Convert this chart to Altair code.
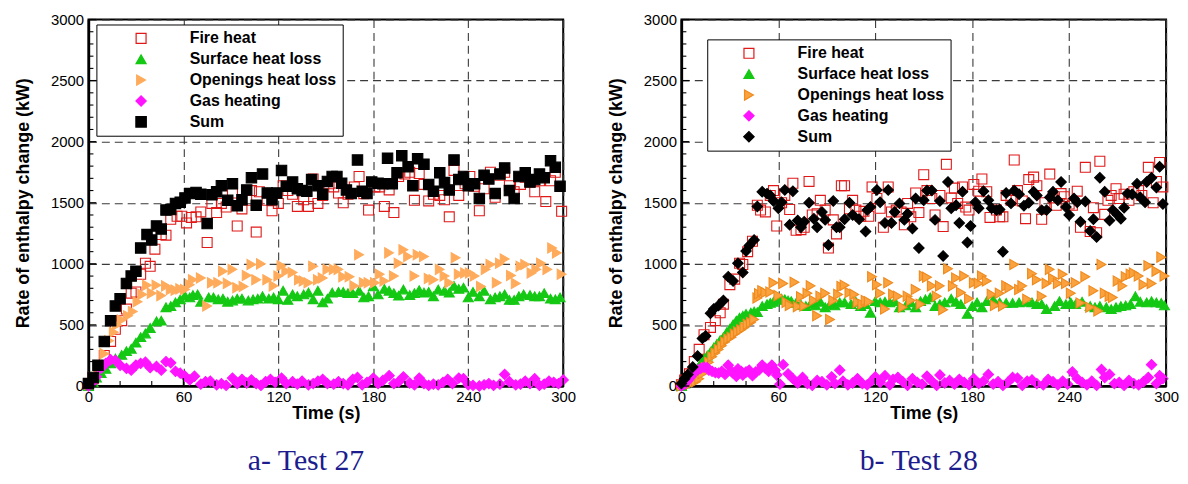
import altair as alt
import pandas as pd

SERIES = ["Fire heat", "Surface heat loss", "Openings heat loss", "Gas heating", "Sum"]

# ---------------- Test 27 : [time (s), rate (kW)] ----------------
FIRE_27 = [[0,15],[3,60],[7,155],[10,250],[14,365],[17,465],[21,535],[24,630],[27,760],[30,770],[33,915],[36,1005],[39,980],[42,1120],[46,1240],[49,1235],[52,1365],[56,1390],[59,1390],[62,1335],[65,1380],[68,1385],[71,1425],[75,1175],[78,1495],[81,1420],[84,1495],[87,1465],[91,1580],[94,1310],[97,1450],[100,1520],[103,1600],[106,1260],[108,1590],[113,1520],[116,1435],[120,1495],[123,1640],[126,1600],[129,1570],[132,1470],[136,1525],[139,1470],[142,1695],[145,1495],[148,1560],[152,1655],[155,1630],[158,1580],[161,1500],[164,1570],[168,1630],[171,1715],[174,1575],[177,1440],[181,1630],[184,1630],[187,1470],[190,1605],[193,1420],[196,1715],[200,1735],[203,1750],[206,1520],[209,1740],[212,1650],[215,1515],[218,1570],[222,1560],[225,1525],[228,1385],[231,1765],[234,1560],[238,1655],[241,1715],[244,1635],[247,1435],[250,1615],[254,1750],[257,1545],[260,1725],[263,1750],[266,1640],[269,1590],[273,1650],[276,1710],[279,1670],[282,1590],[285,1680],[289,1510],[292,1680],[295,1750],[299,1430]]
SURF_27 = [[0,0],[3,30],[5,70],[8,105],[11,140],[14,185],[17,225],[21,255],[24,285],[27,305],[30,355],[33,400],[36,430],[39,475],[43,530],[46,535],[49,645],[52,655],[55,685],[58,710],[61,740],[64,725],[66,745],[69,750],[71,690],[76,725],[79,725],[82,710],[85,715],[88,690],[91,700],[94,715],[97,715],[101,700],[104,710],[107,715],[110,735],[114,715],[117,725],[120,710],[123,780],[126,705],[129,750],[132,735],[136,750],[139,765],[142,710],[145,780],[148,685],[151,715],[154,765],[158,770],[161,770],[164,760],[167,760],[171,780],[174,725],[177,735],[180,815],[183,750],[187,795],[190,780],[193,760],[196,740],[199,790],[203,745],[206,760],[209,785],[212,765],[215,770],[218,735],[221,790],[225,780],[228,765],[231,820],[234,795],[237,805],[240,725],[243,770],[247,735],[250,780],[254,710],[257,725],[260,735],[263,750],[266,705],[269,705],[272,735],[275,750],[279,745],[282,735],[285,735],[288,760],[292,715],[295,710],[298,725]]
OPEN_27 = [[0,10],[3,70],[6,160],[10,265],[13,370],[16,440],[18,500],[21,540],[25,575],[28,610],[31,690],[34,750],[37,825],[40,760],[43,825],[46,740],[49,820],[52,790],[55,785],[58,795],[61,790],[64,830],[66,870],[71,885],[75,655],[78,845],[82,845],[85,940],[88,840],[91,955],[94,805],[98,815],[100,905],[103,995],[106,870],[109,1000],[113,870],[117,820],[120,900],[122,985],[125,940],[129,930],[133,870],[136,860],[139,845],[142,980],[145,870],[148,885],[151,955],[155,955],[158,955],[161,895],[165,895],[168,820],[171,1075],[174,845],[177,845],[181,845],[184,915],[187,860],[190,1090],[193,900],[196,1005],[199,1115],[202,1060],[206,900],[208,1075],[212,1060],[215,880],[218,870],[222,955],[225,900],[228,845],[232,1050],[234,915],[238,925],[241,925],[244,900],[248,815],[251,955],[254,995],[258,845],[260,1005],[263,1040],[267,905],[270,840],[273,980],[276,995],[280,925],[283,955],[286,1005],[290,955],[293,1130],[296,1090],[299,915]]
GAS_27 = [[0,0],[2,20],[5,75],[8,145],[11,185],[14,215],[17,210],[20,170],[24,145],[27,130],[30,170],[33,185],[36,195],[39,150],[43,160],[46,130],[49,200],[52,190],[55,120],[58,105],[61,80],[64,50],[67,80],[71,15],[74,35],[77,40],[81,10],[84,20],[87,5],[91,65],[94,20],[97,55],[100,25],[103,50],[106,20],[109,5],[112,35],[115,55],[118,30],[122,65],[125,20],[129,35],[132,15],[135,40],[139,10],[142,20],[145,40],[148,55],[151,20],[155,15],[158,35],[161,20],[164,10],[167,55],[170,70],[173,10],[176,30],[180,65],[183,20],[186,45],[190,85],[193,20],[196,35],[199,75],[203,25],[206,10],[209,65],[212,20],[215,5],[218,15],[221,10],[224,30],[227,55],[230,20],[234,65],[237,60],[240,10],[243,5],[247,0],[250,10],[253,20],[256,5],[260,15],[263,95],[266,35],[270,10],[273,15],[276,40],[279,20],[282,60],[285,5],[288,15],[291,40],[294,30],[297,20],[300,50]]
SUM_27 = [[0,20],[3,70],[6,170],[10,365],[14,535],[17,655],[20,715],[24,840],[27,900],[30,940],[33,1130],[37,1240],[40,1195],[43,1310],[46,1285],[49,1440],[52,1445],[55,1495],[58,1505],[61,1540],[64,1575],[68,1585],[71,1570],[75,1330],[78,1565],[81,1590],[84,1640],[88,1520],[91,1655],[94,1475],[97,1525],[100,1605],[103,1705],[106,1480],[110,1735],[113,1580],[116,1525],[119,1580],[122,1765],[125,1635],[129,1670],[132,1615],[135,1600],[138,1595],[141,1690],[145,1640],[148,1570],[151,1675],[154,1715],[157,1715],[160,1660],[163,1605],[166,1575],[170,1850],[173,1595],[176,1575],[179,1670],[183,1660],[186,1655],[189,1865],[192,1655],[195,1745],[198,1885],[202,1795],[205,1640],[208,1860],[212,1815],[215,1650],[218,1595],[222,1745],[225,1665],[228,1605],[231,1850],[234,1690],[237,1715],[240,1640],[244,1655],[247,1535],[250,1725],[253,1695],[257,1575],[260,1735],[263,1785],[266,1600],[269,1535],[272,1715],[276,1745],[279,1670],[282,1690],[285,1735],[288,1705],[292,1845],[295,1790],[298,1635]]

# ---------------- Test 28 : [time (s), rate (kW)] ----------------
FIRE_28 = [[0,10],[2,50],[5,100],[8,200],[11,300],[14,420],[18,480],[21,535],[24,600],[26,670],[30,830],[33,875],[36,1005],[38,995],[41,1100],[44,1185],[47,1480],[49,1440],[52,1425],[55,1560],[57,1600],[59,1310],[62,1500],[64,1560],[67,1445],[69,1660],[71,1275],[74,1280],[76,1300],[79,1675],[81,1400],[84,1410],[86,1520],[89,1440],[91,1130],[94,1360],[96,1245],[99,1640],[101,1640],[104,1450],[106,1520],[108,1440],[111,1390],[113,1430],[116,1390],[118,1630],[121,1535],[123,1455],[125,1300],[128,1630],[130,1425],[133,1440],[136,1425],[138,1320],[140,1495],[142,1385],[145,1580],[147,1420],[150,1730],[152,1600],[155,1535],[157,1400],[160,1560],[162,1305],[164,1815],[167,1540],[169,1620],[171,1495],[174,1630],[176,1465],[178,1440],[181,1650],[184,1595],[186,1695],[189,1590],[191,1380],[195,1440],[197,1385],[199,1385],[201,1560],[204,1520],[206,1850],[208,1600],[211,1515],[213,1370],[215,1690],[218,1710],[220,1640],[223,1365],[225,1500],[228,1735],[230,1540],[232,1480],[235,1575],[237,1550],[240,1490],[242,1480],[245,1595],[247,1300],[250,1790],[253,1265],[255,1460],[257,1255],[259,1840],[262,1405],[264,1520],[266,1560],[269,1615],[271,1535],[274,1570],[277,1520],[280,1590],[283,1600],[285,1560],[289,1790],[292,1500],[294,1675],[296,1830],[298,1630]]
SURF_28 = [[0,0],[2,20],[4,50],[6,80],[8,110],[10,145],[12,185],[14,225],[16,250],[18,280],[20,315],[22,345],[24,375],[26,400],[28,440],[30,470],[32,505],[34,535],[36,560],[38,575],[40,590],[43,600],[45,610],[47,605],[50,655],[53,670],[55,680],[57,690],[60,705],[62,715],[64,710],[66,700],[68,695],[71,680],[74,665],[77,655],[80,675],[83,660],[86,690],[89,645],[92,670],[95,660],[98,685],[101,685],[105,670],[108,690],[111,655],[114,670],[117,600],[120,695],[123,685],[126,690],[129,685],[132,695],[135,645],[139,660],[142,685],[145,645],[148,695],[151,710],[154,725],[157,655],[160,670],[163,685],[167,715],[170,690],[173,670],[177,590],[180,655],[183,685],[186,645],[189,695],[193,710],[197,685],[201,680],[205,680],[209,685],[213,690],[217,685],[220,670],[223,670],[226,630],[231,655],[234,695],[238,670],[241,685],[244,670],[248,690],[253,655],[256,645],[259,655],[263,645],[266,630],[269,645],[272,655],[275,660],[278,670],[281,735],[284,690],[288,685],[291,695],[294,685],[297,680],[299,660]]
OPEN_28 = [[0,0],[3,10],[6,20],[9,35],[11,60],[13,100],[15,150],[17,195],[19,240],[21,270],[23,300],[25,330],[27,360],[29,385],[31,400],[33,425],[35,445],[37,460],[39,480],[41,505],[43,520],[45,545],[47,720],[48,755],[50,780],[52,765],[55,770],[57,845],[60,740],[63,840],[65,685],[67,660],[70,850],[72,650],[74,730],[76,655],[78,760],[80,820],[82,700],[84,575],[86,735],[89,760],[92,545],[94,700],[97,750],[99,815],[101,825],[104,765],[107,750],[109,685],[112,670],[114,700],[116,690],[118,895],[121,830],[123,760],[126,630],[128,845],[131,750],[134,735],[137,645],[140,735],[142,700],[145,790],[148,670],[150,900],[152,890],[155,820],[158,735],[160,820],[162,625],[165,960],[168,820],[170,885],[173,765],[175,900],[178,715],[181,845],[184,840],[186,900],[189,860],[192,750],[194,660],[197,760],[199,655],[201,820],[203,805],[206,995],[209,790],[211,820],[214,710],[217,920],[220,870],[223,735],[226,840],[228,955],[230,880],[233,840],[236,915],[238,840],[241,760],[244,845],[247,680],[250,895],[253,645],[255,780],[258,615],[260,995],[262,760],[265,735],[267,725],[270,860],[273,820],[275,895],[278,915],[280,925],[283,900],[286,830],[289,985],[291,840],[294,940],[297,1055],[299,900]]
GAS_28 = [[0,0],[2,15],[4,45],[6,75],[8,115],[10,130],[12,145],[14,155],[16,150],[17,130],[19,120],[21,110],[23,105],[25,120],[27,95],[29,170],[31,120],[32,105],[34,80],[35,140],[37,120],[38,90],[40,115],[42,130],[44,85],[46,115],[48,130],[50,170],[52,145],[54,120],[56,170],[58,130],[59,90],[61,15],[63,175],[66,100],[69,60],[72,25],[75,70],[78,20],[81,5],[84,45],[87,35],[90,10],[93,75],[95,20],[98,130],[100,40],[103,10],[106,25],[109,60],[112,20],[115,10],[118,45],[120,75],[123,30],[126,85],[129,10],[131,55],[134,70],[137,35],[140,5],[143,60],[146,30],[149,15],[152,80],[155,40],[158,5],[160,90],[163,25],[166,45],[169,15],[172,55],[175,30],[178,10],[181,60],[184,20],[187,40],[190,95],[193,15],[196,35],[199,5],[202,30],[205,70],[208,65],[211,5],[214,40],[217,50],[220,20],[224,10],[227,55],[230,35],[233,10],[236,40],[239,15],[242,115],[245,60],[248,30],[251,10],[254,40],[257,5],[260,135],[262,70],[265,95],[268,20],[271,30],[274,5],[277,45],[280,20],[283,10],[286,35],[289,70],[291,175],[294,20],[296,85],[298,60]]
SUM_28 = [[0,20],[2,60],[4,95],[7,155],[10,245],[13,390],[15,410],[18,595],[20,630],[23,660],[26,700],[29,895],[32,860],[35,1005],[38,930],[40,1105],[42,1150],[45,1195],[47,1470],[50,1590],[53,1575],[55,1560],[57,1515],[60,1455],[62,1505],[64,1605],[67,1320],[69,1595],[72,1355],[74,1300],[76,1345],[79,1500],[82,1370],[84,1300],[87,1425],[89,1360],[91,1155],[94,1515],[96,1300],[98,1300],[101,1365],[104,1500],[106,1400],[110,1365],[114,1265],[115,1440],[117,1465],[121,1605],[123,1505],[126,1335],[128,1605],[130,1335],[132,1425],[135,1495],[138,1360],[140,1410],[143,1290],[145,1535],[147,1130],[150,1520],[152,1600],[155,1600],[157,1360],[160,1515],[162,1065],[165,1670],[167,1455],[170,1480],[172,1335],[174,1590],[177,1175],[179,1310],[182,1505],[184,1455],[187,1595],[190,1520],[192,1455],[195,1440],[197,1445],[199,1100],[201,1580],[204,1495],[206,1600],[209,1570],[212,1475],[215,1500],[218,1590],[220,1560],[223,1440],[226,1440],[228,1545],[230,1590],[233,1520],[235,1670],[238,1465],[240,1400],[243,1535],[245,1505],[247,1345],[250,1510],[253,1270],[255,1365],[257,1220],[259,1705],[262,1590],[265,1355],[267,1440],[270,1400],[272,1370],[274,1460],[276,1575],[279,1570],[282,1655],[284,1545],[287,1505],[288,1670],[291,1705],[294,1625],[296,1795],[298,1490]]

# axis ticks
X_MAJOR = [0, 60, 120, 180, 240, 300]
X_MINOR = [20, 40, 80, 100, 140, 160, 200, 220, 260, 280]
Y_MAJOR = [0, 500, 1000, 1500, 2000, 2500, 3000]
Y_MINOR = [100, 200, 300, 400, 600, 700, 800, 900, 1100, 1200, 1300, 1400, 1600, 1700, 1800, 1900,
           2100, 2200, 2300, 2400, 2600, 2700, 2800, 2900]

H = 369
SANS = "Liberation Sans"


def frame(groups):
    rows = []
    for name, pts in zip(SERIES, groups):
        for t, v in pts:
            rows.append({"t": t, "v": v, "series": name})
    return pd.DataFrame(rows)


XAXIS = alt.Axis(values=X_MAJOR, title="Time (s)", grid=True, ticks=False, tickSize=0,
                 labelFlush=False, labelPadding=4, titlePadding=0,
                 gridDash=[8, 5], gridColor="#3a3a3a", gridWidth=1.1,
                 domainColor="black", domainWidth=2.5)
YAXIS = alt.Axis(values=Y_MAJOR, format="d", title="Rate of enthalpy change (kW)", grid=True, ticks=False,
                 tickSize=0, labelFlush=False, labelPadding=5, titlePadding=18,
                 gridDash=[8, 5], gridColor="#3a3a3a", gridWidth=1.1,
                 domainColor="black", domainWidth=2.5)
XSCALE = alt.Scale(domain=[0, 300], nice=False)
YSCALE = alt.Scale(domain=[0, 3000], nice=False)


def panel(groups, shapes, fills, strokes, sizes, width, lx, ly, soff, loff, caption, cdx):
    data = frame(groups)
    leg = alt.Legend(title=None, orient="none", legendX=lx, legendY=ly, fillColor="white",
                     strokeColor="black", padding=6, rowPadding=5,
                     labelFont=SANS, labelFontSize=16, labelFontWeight="bold", labelColor="black",
                     labelOffset=loff, symbolOffset=soff, symbolStrokeWidth=1.2, labelLimit=400)
    x = alt.X("t:Q", scale=XSCALE, axis=XAXIS)
    y = alt.Y("v:Q", scale=YSCALE, axis=YAXIS)
    pts = alt.Chart(data).mark_point(opacity=1, strokeWidth=1.1).encode(
        x=x, y=y,
        shape=alt.Shape("series:N", scale=alt.Scale(domain=SERIES, range=shapes), legend=leg),
        fill=alt.Fill("series:N", scale=alt.Scale(domain=SERIES, range=fills), legend=leg),
        stroke=alt.Stroke("series:N", scale=alt.Scale(domain=SERIES, range=strokes), legend=leg),
        size=alt.Size("series:N", scale=alt.Scale(domain=SERIES, range=sizes), legend=leg),
    )
    xmaj = alt.Chart(pd.DataFrame({"t": X_MAJOR})).mark_rule(color="black", strokeWidth=1.3).encode(
        x=alt.X("t:Q", scale=XSCALE, axis=XAXIS), y=alt.value(H), y2=alt.value(H - 8))
    xmin = alt.Chart(pd.DataFrame({"t": X_MINOR})).mark_rule(color="black", strokeWidth=1.1).encode(
        x=alt.X("t:Q", scale=XSCALE, axis=XAXIS), y=alt.value(H), y2=alt.value(H - 5))
    ymaj = alt.Chart(pd.DataFrame({"v": Y_MAJOR})).mark_rule(color="black", strokeWidth=1.3).encode(
        y=alt.Y("v:Q", scale=YSCALE, axis=YAXIS), x=alt.value(0), x2=alt.value(8))
    ymin = alt.Chart(pd.DataFrame({"v": Y_MINOR})).mark_rule(color="black", strokeWidth=1.1).encode(
        y=alt.Y("v:Q", scale=YSCALE, axis=YAXIS), x=alt.value(0), x2=alt.value(5))
    return alt.layer(pts, xmaj, xmin, ymaj, ymin).properties(
        width=width, height=H,
        title=alt.TitleParams(caption, orient="bottom", anchor="middle",
                              font="Liberation Serif, Times New Roman, serif",
                              fontSize=30, fontWeight="normal", color="#1c1c8e", offset=24, dx=cdx))


left = panel([FIRE_27, SURF_27, OPEN_27, GAS_27, SUM_27],
             ["square", "triangle-up", "triangle-right", "diamond", "square"],
             ["transparent", "#14c814", "#ffab5c", "#ff14ff", "#000000"],
             ["#e01818", "#14c814", "#ffab5c", "#ff14ff", "#000000"],
             [100, 110, 115, 120, 120],
             478, 8, 5, 31, 41, "a- Test 27", -20)
right = panel([FIRE_28, SURF_28, OPEN_28, GAS_28, SUM_28],
              ["square", "triangle-up", "triangle-right", "diamond", "diamond"],
              ["transparent", "#14c814", "#f9a23e", "#ff14ff", "#000000"],
              ["#e01818", "#14c814", "#ef8a1e", "#ff14ff", "#000000"],
              [100, 110, 130, 120, 170],
              488, 26, 20, 28, 41, "b- Test 28", -5)

chart = alt.hconcat(left, right, spacing=119, bounds="flush").resolve_scale(
    shape="independent", fill="independent", stroke="independent", size="independent"
).resolve_legend(shape="independent", fill="independent", stroke="independent", size="independent"
).properties(padding={"left": 5, "top": 2, "right": 0, "bottom": 0}).configure_axis(
    labelFont=SANS, labelFontSize=15, labelColor="black",
    titleFont=SANS, titleFontSize=18, titleFontWeight="bold", titleColor="black"
).configure_view(stroke="black", strokeWidth=2)

chart.save("out.html", embed_options={"renderer": "svg", "actions": False})
